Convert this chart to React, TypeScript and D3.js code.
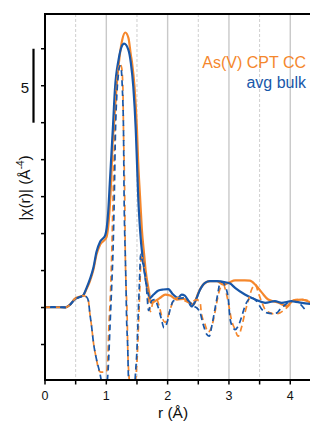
import React from "react";
import * as d3 from "d3";

// |chi(r)| magnitude, avg bulk (blue)
const rBlueMag = [0, 0.16, 0.33, 0.41, 0.49, 0.57, 0.62, 0.68, 0.73, 0.79, 0.84, 0.9, 0.98, 1.03, 1.06, 1.09, 1.11, 1.14, 1.2, 1.25, 1.29, 1.36, 1.4, 1.44, 1.48, 1.5, 1.52, 1.55, 1.59, 1.62, 1.66, 1.71, 1.77, 1.85, 1.93, 2.01, 2.09, 2.17, 2.23, 2.28, 2.34, 2.39, 2.45, 2.53, 2.61, 2.69, 2.8, 2.94, 3.02, 3.1, 3.26, 3.43, 3.59, 3.75, 3.86, 4.02, 4.19, 4.33];
const vBlueMag = [0.03, 0.03, 0.01, 0.2, 0.57, 0.71, 0.81, 1.35, 1.89, 2.7, 3.78, 4.46, 4.86, 6.42, 8.65, 10.88, 12.36, 14.73, 16.76, 17.64, 17.84, 17.43, 16.55, 14.93, 12.03, 9.8, 7.5, 5.27, 3.45, 2.57, 1.42, 0.64, 0.88, 1.15, 1.22, 1.25, 0.88, 0.66, 0.88, 0.81, 0.43, 0.07, 0.43, 1.22, 1.67, 1.78, 1.78, 1.71, 1.62, 1.33, 0.88, 0.54, 0.32, 0.43, 0.32, 0.43, 0.32, 0.25];

// |chi(r)| magnitude, As(V) CPT CC (orange)
const rOrangeMag = [0, 0.16, 0.33, 0.41, 0.49, 0.57, 0.62, 0.68, 0.73, 0.79, 0.84, 0.9, 1.0, 1.05, 1.08, 1.1, 1.13, 1.17, 1.22, 1.26, 1.31, 1.36, 1.4, 1.42, 1.46, 1.5, 1.52, 1.55, 1.58, 1.62, 1.64, 1.69, 1.73, 1.79, 1.88, 1.96, 2.04, 2.15, 2.26, 2.37, 2.42, 2.5, 2.58, 2.69, 2.8, 2.91, 3.0, 3.1, 3.26, 3.34, 3.43, 3.54, 3.64, 3.81, 3.94, 4.05, 4.19, 4.33];
const vOrangeMag = [0.03, 0.03, 0.01, 0.2, 0.6, 0.74, 0.81, 1.28, 1.76, 2.57, 3.58, 4.26, 4.73, 6.42, 8.65, 10.88, 12.7, 15.07, 17.09, 18.11, 18.6, 18.24, 17.09, 16.55, 14.93, 12.03, 9.8, 7.5, 5.27, 3.45, 2.57, 1.22, 0.32, 0.43, 0.66, 0.88, 0.81, 0.54, 0.59, 0.32, 0.2, 0.99, 1.55, 1.78, 1.78, 1.55, 1.69, 1.84, 1.84, 1.82, 1.55, 0.99, 0.54, 0.32, 0.09, 0.49, 0.54, 0.34];

// Re chi(r), avg bulk (blue, dashed)
const rBlueRe = [0, 0.16, 0.33, 0.41, 0.49, 0.57, 0.62, 0.68, 0.71, 0.73, 0.76, 0.79, 0.84, 0.9, 0.93, 0.98, 1.01, 1.03, 1.06, 1.09, 1.11, 1.13, 1.15, 1.17, 1.2, 1.22, 1.24, 1.26, 1.28, 1.29, 1.31, 1.32, 1.33, 1.35, 1.36, 1.38, 1.42, 1.46, 1.47, 1.5, 1.52, 1.54, 1.56, 1.58, 1.61, 1.65, 1.69, 1.74, 1.79, 1.84, 1.9, 1.94, 1.99, 2.04, 2.09, 2.17, 2.26, 2.37, 2.42, 2.47, 2.53, 2.58, 2.64, 2.68, 2.72, 2.77, 2.83, 2.85, 2.89, 2.94, 2.99, 3.02, 3.07, 3.1, 3.15, 3.21, 3.26, 3.32, 3.37, 3.45, 3.54, 3.62, 3.72, 3.78, 3.83, 3.89, 4.02, 4.13, 4.24];
const vBlueRe = [0.03, 0.03, 0.01, 0.2, 0.57, 0.71, 0.81, 0.71, 0.41, -0.34, -1.28, -2.36, -3.51, -4.53, -5.2, -5.7, -5.2, -4.19, -1.28, 1.69, 3.92, 7.5, 12.03, 14.26, 15.88, 16.35, 16.22, 14.93, 12.03, 7.5, 3.45, 1.69, -0.61, -2.84, -4.66, -5.88, -6.2, -5.7, -4.86, -2.84, -0.61, 1.69, 3.6, 3.3, 2.7, 1.55, -0.2, 0.47, 0.54, 0.09, -0.81, -1.37, -1.03, -0.14, 0.43, 0.59, 0.66, 0.32, 0.09, 0.0, -0.36, -1.15, -1.82, -1.93, -1.26, -0.14, 1.22, 1.67, 1.72, 1.44, 0.54, -0.81, -1.37, -1.49, -1.26, -0.59, 0.09, 0.54, 0.66, 0.43, -0.14, -0.36, -0.41, -0.36, -0.14, 0.09, 0.43, 0.32, -0.14];

// Re chi(r), As(V) CPT CC (orange, dashed)
const rOrangeRe = [0, 0.16, 0.33, 0.41, 0.49, 0.57, 0.62, 0.68, 0.71, 0.73, 0.76, 0.79, 0.84, 0.88, 0.91, 1.0, 1.02, 1.04, 1.07, 1.09, 1.11, 1.14, 1.16, 1.19, 1.22, 1.25, 1.27, 1.28, 1.3, 1.31, 1.32, 1.34, 1.35, 1.37, 1.4, 1.45, 1.48, 1.51, 1.53, 1.55, 1.57, 1.6, 1.63, 1.67, 1.72, 1.76, 1.82, 1.86, 1.91, 1.96, 2.04, 2.09, 2.17, 2.37, 2.47, 2.53, 2.55, 2.61, 2.66, 2.72, 2.77, 2.8, 2.85, 2.91, 2.95, 2.99, 3.04, 3.1, 3.15, 3.21, 3.26, 3.32, 3.37, 3.43, 3.48, 3.54, 3.59, 3.67, 3.75, 3.83, 3.94, 4.02, 4.08, 4.19, 4.33];
const vOrangeRe = [0.03, 0.03, 0.01, 0.2, 0.6, 0.74, 0.81, 0.71, 0.41, -0.34, -1.28, -2.36, -3.51, -4.26, -4.37, -4.37, -3.85, -1.49, 1.22, 3.92, 7.5, 12.03, 14.39, 15.95, 16.49, 16.22, 14.93, 12.03, 7.5, 3.45, 1.69, -0.61, -2.84, -4.66, -5.88, -6.08, -4.86, -2.84, -0.61, 1.69, 3.58, 3.1, 2.57, 1.35, -0.27, 0.34, 0.54, 0.14, -0.68, -1.0, -0.14, 0.43, 0.66, 0.32, 0.54, 0.32, -0.36, -1.15, -1.67, -1.26, -0.36, 0.32, 1.22, 1.55, 1.08, 0.32, -0.81, -1.49, -1.94, -1.26, -0.36, 0.54, 1.22, 1.55, 0.99, 0.32, -0.14, -0.36, -0.43, -0.36, -0.02, 0.32, 0.54, 0.54, 0.43];

const xTicks = [0, 1, 2, 3, 4];
const xMinorTicks = [0.5, 1.5, 2.5, 3.5];
const yTicks = [-2.5, 0, 2.5, 5, 7.5, 10, 12.5, 15, 17.5];
const legendLabels = ["As(V) CPT CC", "avg bulk"];
const scaleBarLabel = "5";
const scaleBarRange = [12.5, 17.5];

const ORANGE = "#f5872c";
const BLUE = "#1857a9";
const FONT = "Liberation Sans, Arial, Helvetica, sans-serif";

export default function App() {
  const W = 310, H = 421;
  const left = 45, right = 310.5, top = 14, bottom = 380;
  const x = d3.scaleLinear().domain([0, 4.33]).range([left, right]);
  const y = d3.scaleLinear().domain([-4.9, 19.85]).range([bottom, top]);
  const line = (rs: number[], vs: number[]) =>
    d3.line<number>().x((_, i) => x(rs[i])).y((v) => y(v)).curve(d3.curveMonotoneX)(vs) || "";

  return (
    <svg width={W} height={H} style={{ position: "absolute", left: 0, top: 0, background: "#fff" }} fontFamily={FONT}>
      <defs>
        <clipPath id="plotClip">
          <rect x={left} y={top} width={right - left} height={bottom - top} />
        </clipPath>
      </defs>
      {/* grid */}
      {xTicks.filter((t) => t > 0).map((t) => (
        <line key={"g" + t} x1={x(t)} x2={x(t)} y1={top} y2={bottom} stroke="#c9c9c9" strokeWidth={1.4} />
      ))}
      {xMinorTicks.map((t) => (
        <line key={"gm" + t} x1={x(t)} x2={x(t)} y1={top} y2={bottom} stroke="#cfcfcf" strokeWidth={1} strokeDasharray="3,2" />
      ))}
      <g clipPath="url(#plotClip)" fill="none" strokeLinejoin="round">
        <path d={line(rOrangeMag, vOrangeMag)} stroke={ORANGE} strokeWidth={2.2} />
        <path d={line(rBlueMag, vBlueMag)} stroke={BLUE} strokeWidth={2.2} />
        <path d={line(rOrangeRe, vOrangeRe)} stroke={ORANGE} strokeWidth={1.7} strokeDasharray="6,4" />
        <path d={line(rBlueRe, vBlueRe)} stroke={BLUE} strokeWidth={1.7} strokeDasharray="6,4" strokeDashoffset={5} />
      </g>
      {/* axes */}
      <line x1={left} x2={W} y1={top} y2={top} stroke="#000" strokeWidth={2} />
      <line x1={left} x2={left} y1={top - 1} y2={bottom + 1} stroke="#000" strokeWidth={2} />
      <line x1={left - 1} x2={W} y1={bottom} y2={bottom} stroke="#000" strokeWidth={2} />
      {yTicks.map((t) => (
        <line key={"yt" + t} x1={left - 4} x2={left} y1={y(t)} y2={y(t)} stroke="#000" strokeWidth={1.5} />
      ))}
      {xTicks.concat(xMinorTicks).map((t) => (
        <line key={"xt" + t} x1={x(t)} x2={x(t)} y1={bottom} y2={bottom + 4.5} stroke="#000" strokeWidth={1.5} />
      ))}
      {xTicks.map((t) => (
        <text key={"xl" + t} x={x(t)} y={400} fontSize={12.5} textAnchor="middle" fill="#111">{t}</text>
      ))}
      <text x={173} y={418} fontSize={15.5} textAnchor="middle" fill="#111">r (Å)</text>
      <text transform={`translate(30,188) rotate(-90)`} fontSize={15.5} textAnchor="middle" fill="#111">
        |χ(r)| (Å<tspan dy={-6} fontSize={10}>-4</tspan><tspan dy={6}>)</tspan>
      </text>
      {/* scale bar */}
      <line x1={33.5} x2={33.5} y1={y(scaleBarRange[1])} y2={y(scaleBarRange[0])} stroke="#000" strokeWidth={2.2} />
      <text x={25} y={92.5} fontSize={15} textAnchor="middle" fill="#111">{scaleBarLabel}</text>
      {/* legend */}
      <text x={306} y={68} fontSize={16} textAnchor="end" fill={ORANGE}>{legendLabels[0]}</text>
      <text x={306} y={88} fontSize={16} textAnchor="end" fill={BLUE}>{legendLabels[1]}</text>
    </svg>
  );
}
